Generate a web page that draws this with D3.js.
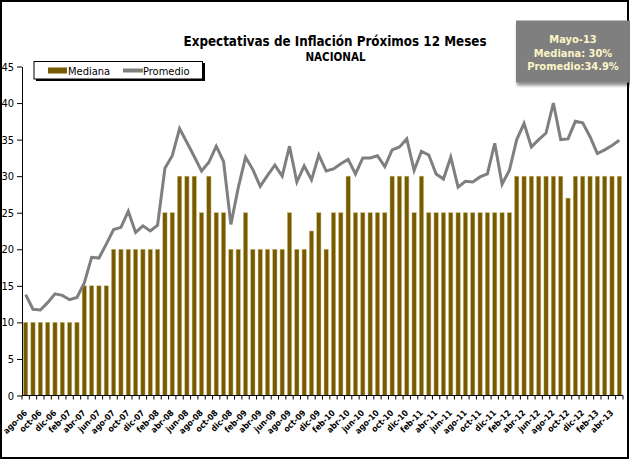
<!DOCTYPE html>
<html>
<head>
<meta charset="utf-8">
<script src="https://cdn.jsdelivr.net/npm/d3@7"></script>
<style>
  body { margin: 0; background: #fff; }
  svg { display: block; }
  text { font-family: Tahoma, "DejaVu Sans Condensed", "DejaVu Sans", sans-serif; }
</style>
</head>
<body>
<div id="chart"></div>
<script>
// months, ago-06 .. may-13
var months = [
  "ago-06","sep-06","oct-06","nov-06","dic-06",
  "ene-07","feb-07","mar-07","abr-07","may-07","jun-07","jul-07","ago-07","sep-07","oct-07","nov-07","dic-07",
  "ene-08","feb-08","mar-08","abr-08","may-08","jun-08","jul-08","ago-08","sep-08","oct-08","nov-08","dic-08",
  "ene-09","feb-09","mar-09","abr-09","may-09","jun-09","jul-09","ago-09","sep-09","oct-09","nov-09","dic-09",
  "ene-10","feb-10","mar-10","abr-10","may-10","jun-10","jul-10","ago-10","sep-10","oct-10","nov-10","dic-10",
  "ene-11","feb-11","mar-11","abr-11","may-11","jun-11","jul-11","ago-11","sep-11","oct-11","nov-11","dic-11",
  "ene-12","feb-12","mar-12","abr-12","may-12","jun-12","jul-12","ago-12","sep-12","oct-12","nov-12","dic-12",
  "ene-13","feb-13","mar-13","abr-13","may-13"
];
// Mediana (bars)
var mediana = [
  10,10,10,10,10,
  10,10,10,15,15,15,15,20,20,20,20,20,
  20,20,25,25,30,30,30,25,30,25,25,20,
  20,25,20,20,20,20,20,25,20,20,22.5,25,
  20,25,25,30,25,25,25,25,25,30,30,30,
  25,30,25,25,25,25,25,25,25,25,25,25,
  25,25,30,30,30,30,30,30,30,27,30,30,
  30,30,30,30,30
];
// Promedio (line)
var promedio = [
  13.8,11.8,11.7,12.7,13.9,
  13.7,13.1,13.4,15.4,18.9,18.8,20.7,22.7,23.0,25.2,22.3,23.2,
  22.5,23.3,31.1,32.8,36.5,34.6,32.7,30.7,31.9,34.1,32.0,23.4,
  28.4,32.6,30.9,28.6,30.1,31.5,30.0,34.1,29.2,31.4,29.5,32.9,
  30.7,31.0,31.7,32.3,30.3,32.5,32.5,32.8,31.3,33.6,34.0,35.1,
  30.8,33.4,32.9,30.3,29.6,32.6,28.5,29.3,29.2,29.9,30.3,34.5,
  28.9,30.8,35.0,37.2,34.0,35.0,35.9,40.0,35.0,35.1,37.5,37.3,
  35.4,33.1,33.6,34.2,34.9
];
var yTicks = [0, 5, 10, 15, 20, 25, 30, 35, 40, 45];
var infoLines = ["Mayo-13", "Mediana: 30%", "Promedio:34.9%"];

var width = 630, height = 460;
var plotLeft = 22, plotRight = 623, plotTop = 66.5, plotBottom = 395.5;

var svg = d3.select("#chart").append("svg")
  .attr("width", width).attr("height", height);

var defs = svg.append("defs");
var shadow = defs.append("filter").attr("id", "shadow")
  .attr("x", "-10%").attr("y", "-10%").attr("width", "130%").attr("height", "140%");
shadow.append("feDropShadow").attr("dx", 1).attr("dy", 3)
  .attr("stdDeviation", 1.5).attr("flood-color", "#000").attr("flood-opacity", 0.45);

// outer frame
svg.append("rect").attr("x", 1).attr("y", 1).attr("width", 627).attr("height", 457)
  .attr("fill", "none").attr("stroke", "#000").attr("stroke-width", 2);

// scales
var x = d3.scaleBand().domain(months).range([plotLeft, plotRight]).paddingInner(0.42).paddingOuter(0.21);
var y = d3.scaleLinear().domain([0, 45]).range([plotBottom, plotTop]);

// bars
svg.append("g").selectAll("rect").data(months).enter().append("rect")
  .attr("x", function(d) { return x(d); })
  .attr("width", x.bandwidth())
  .attr("y", function(d, i) { return y(mediana[i]); })
  .attr("height", function(d, i) { return y(0) - y(mediana[i]); })
  .attr("fill", "#775b00")
  .attr("stroke", "#c9b777").attr("stroke-width", 0.5);

// promedio line
var line = d3.line()
  .x(function(d, i) { return x(months[i]) + x.bandwidth() / 2; })
  .y(function(d) { return y(d); });
svg.append("path").datum(promedio)
  .attr("d", line)
  .attr("fill", "none").attr("stroke", "#7f7f7f").attr("stroke-width", 3)
  .attr("stroke-linejoin", "miter");

// y axis
var yAxis = d3.axisLeft(y).tickValues(yTicks).tickSize(5).tickSizeOuter(0);
var gy = svg.append("g").attr("transform", "translate(" + plotLeft + ",0)").call(yAxis);
gy.selectAll("text").attr("font-size", 11).attr("fill", "#000").attr("x", -8);
gy.select(".domain").attr("stroke", "#000");

// x axis: ticks at month boundaries, labels every two months
var xAxis = d3.axisBottom(x).tickSize(4).tickSizeOuter(0)
  .tickFormat(function(d, i) { return i % 2 === 0 ? d : ""; });
var gx = svg.append("g").attr("transform", "translate(0," + plotBottom + ")").call(xAxis);
gx.select(".domain").attr("stroke", "#000").attr("d", "M" + plotLeft + ",0H" + plotRight);
gx.selectAll(".tick line").attr("x1", x.step() / 2).attr("x2", x.step() / 2).attr("stroke", "#000");
gx.append("line").attr("x1", plotLeft).attr("x2", plotLeft).attr("y1", 0).attr("y2", 4).attr("stroke", "#000");
gx.selectAll(".tick text")
  .attr("font-size", 8.5).attr("font-weight", "bold").attr("fill", "#000")
  .attr("text-anchor", "end")
  .attr("y", 0).attr("dy", 0)
  .attr("transform", "translate(2,18) rotate(-45)");

// title
svg.append("text").attr("x", 335).attr("y", 46).attr("text-anchor", "middle")
  .attr("font-size", 14).attr("font-weight", "bold").attr("fill", "#000")
  .attr("textLength", 303).attr("lengthAdjust", "spacingAndGlyphs")
  .text("Expectativas de Inflación Próximos 12 Meses");
svg.append("text").attr("x", 335.5).attr("y", 61).attr("text-anchor", "middle")
  .attr("font-size", 11.5).attr("font-weight", "bold").attr("fill", "#000")
  .text("NACIONAL");

// legend
var lg = svg.append("g");
lg.append("rect").attr("x", 36).attr("y", 63).attr("width", 169).attr("height", 18).attr("fill", "#000");
lg.append("rect").attr("x", 34).attr("y", 61.5).attr("width", 168.5).attr("height", 17.5)
  .attr("fill", "#fff").attr("stroke", "#000").attr("stroke-width", 1);
lg.append("rect").attr("x", 48).attr("y", 67.5).attr("width", 19).attr("height", 6).attr("fill", "#775b00");
lg.append("text").attr("x", 68).attr("y", 74.5).attr("font-size", 11).attr("fill", "#000").text("Mediana");
lg.append("line").attr("x1", 123).attr("x2", 143).attr("y1", 70.5).attr("y2", 70.5)
  .attr("stroke", "#7f7f7f").attr("stroke-width", 4);
lg.append("text").attr("x", 143).attr("y", 74.5).attr("font-size", 11).attr("fill", "#000").text("Promedio");

// info box
var ib = svg.append("g");
ib.append("rect").attr("x", 516).attr("y", 20.5).attr("width", 116).attr("height", 62)
  .attr("fill", "#7f7f7f").attr("filter", "url(#shadow)");
ib.selectAll("text.info").data(infoLines).enter().append("text")
  .attr("class", "info")
  .attr("x", 573).attr("y", function(d, i) { return 43 + i * 13.5; })
  .attr("text-anchor", "middle").attr("font-size", 11).attr("font-weight", "bold")
  .attr("fill", "#fbf5c8")
  .text(function(d) { return d; });
</script>
</body>
</html>
